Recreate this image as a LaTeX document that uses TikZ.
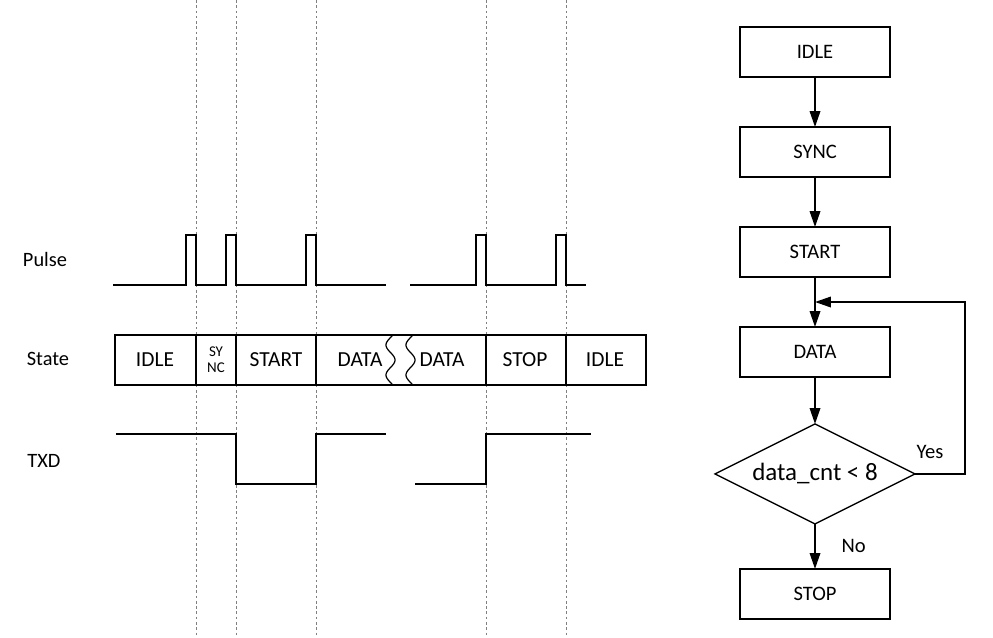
\documentclass[tikz,border=0pt]{standalone}
\usepackage{fontspec}
\setmainfont{Carlito}
\usetikzlibrary{positioning, shapes.geometric, arrows.meta}

\tikzset{
  sigline/.style={line width=0.9pt},
  boxline/.style={line width=0.7pt},
  timeline/.style={gray, line width=0.4pt, dash pattern=on 1.5pt off 1.5pt},
  signame/.style={font=\fontsize{11.6}{13}\selectfont},
  statetext/.style={font=\fontsize{12.2}{14}\selectfont},
  stepbox/.style={draw, line width=0.75pt, minimum width=3cm, minimum height=1cm, inner sep=0pt, outer sep=0pt, font=\fontsize{11.7}{13}\selectfont},
  decbox/.style={draw, diamond, aspect=2, line width=0.75pt, minimum width=4cm, minimum height=2cm, inner sep=0pt, outer sep=0pt, font=\fontsize{14.2}{16}\selectfont},
  flowarrow/.style={-{Triangle[length=9pt, width=6pt]}, line width=0.9pt}
}

\begin{document}
\begin{tikzpicture}[x=0.02cm, y=-0.02cm]
        \useasboundingbox (0,0) rectangle (993,637);
        %---------------------------
        \foreach \t in {196,236,316,486,566}
          \draw[timeline] (\t,0) -- (\t,637);
        \node[signame] (pulse) at (45,259) {Pulse};
        \node[signame] (state) at (48,359) {State};
        \node[signame] (txd) at (44,461) {TXD};
        \draw[sigline] (113,285) -- (186,285) -- (186,235) -- (196,235) -- (196,285) -- (226,285) -- (226,235) -- (236,235) -- (236,285)
          -- (306,285) -- (306,235) -- (316,235) -- (316,285) -- (386,285);
        \draw[sigline] (410,285) -- (476,285) -- (476,235) -- (486,235) -- (486,285) -- (556,285) -- (556,235) -- (566,235) -- (566,285) -- (586,285);
        \draw[sigline] (116,434) -- (236,434) -- (236,484) -- (316,484) -- (316,434) -- (386,434);
        \draw[sigline] (415,484) -- (486,484) -- (486,434) -- (591,434);
        %---------------------------
        \draw[boxline] (115,335) rectangle (646,385);
        \foreach \t in {196,236,316,486,566}
          \draw[boxline] (\t,335) -- (\t,385);
        \foreach \c in {390.5,410.5}
          \draw[boxline] plot[domain=0:1, samples=50, smooth, variable=\s] ({\c+4.5*sin(600*\s+150)},{335+50*\s});
        \node[statetext] (s0) at (155,360) {IDLE};
        \node[statetext, font=\fontsize{8.5}{9}\selectfont, align=center] (s1) at (216,360) {SY\\NC};
        \node[statetext] (s2) at (276,360) {START};
        \node[statetext] (s3) at (360,360) {DATA};
        \node[statetext] (s4) at (442,360) {DATA};
        \node[statetext] (s5) at (525,360) {STOP};
        \node[statetext] (s6) at (605,360) {IDLE};
        %---------------------------
        \node[stepbox] (idle) at (815,52) {IDLE};
        \node[stepbox, below=1cm of idle] (sync) {SYNC};
        \node[stepbox, below=1cm of sync] (start) {START};
        \node[stepbox, below=1cm of start] (data) {DATA};
        \node[decbox, below=0.94cm of data] (cnt) {data\_cnt < 8};
        \node[stepbox, below=0.9cm of cnt] (stop) {STOP};
        \coordinate (loopin) at (815,302);
        %--------------------------
        \path[flowarrow]
        (idle) edge (sync)
        (sync) edge (start)
        (start) edge (data)
        (data) edge (cnt)
        (cnt) edge node [right=0.4cm, font=\fontsize{11.7}{13}\selectfont] {No} (stop);
        \draw[flowarrow] (cnt.east) -- node [pos=0.3, above=5pt, font=\fontsize{11.7}{13}\selectfont] {Yes} ++(50,0) |- (loopin);
\end{tikzpicture}
\end{document}
